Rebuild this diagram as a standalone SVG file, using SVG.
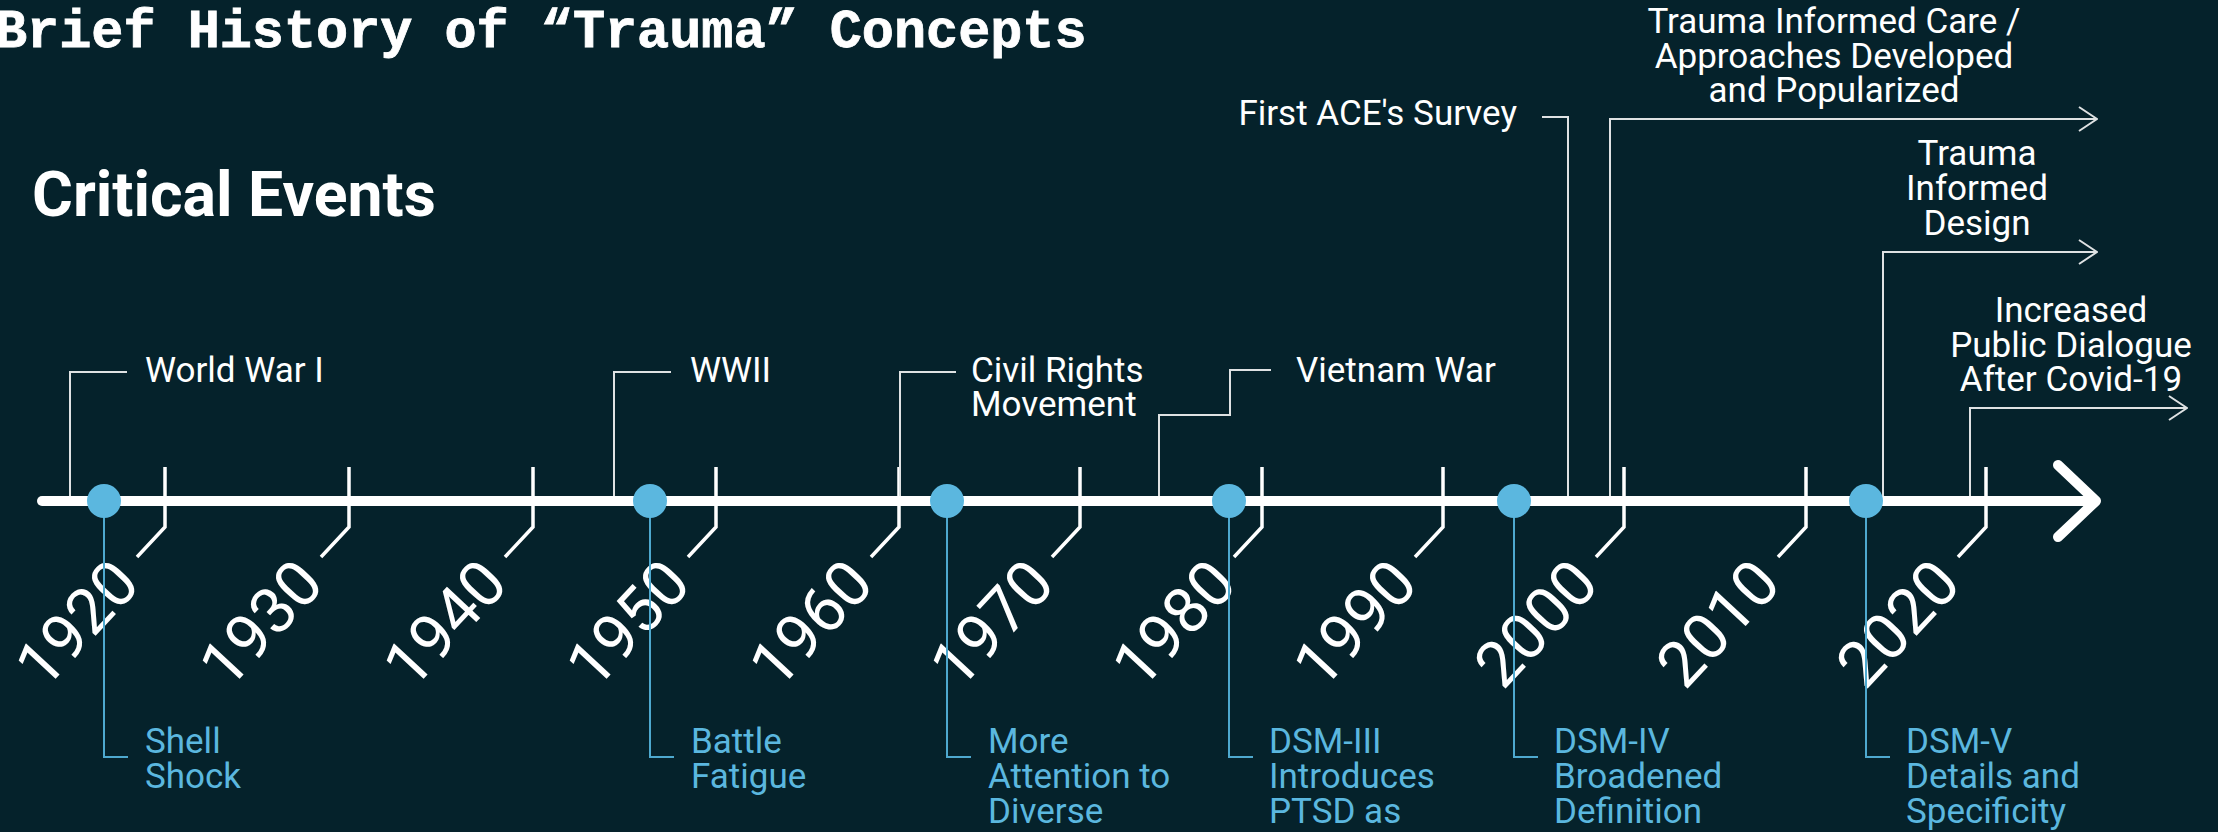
<svg xmlns="http://www.w3.org/2000/svg" width="2218" height="832" viewBox="0 0 2218 832">
<defs>
<style>
.bg{fill:#05222b}
.t{font-family:Roboto,"Liberation Sans",sans-serif;fill:#ffffff;font-size:35px}
.b{font-family:Roboto,"Liberation Sans",sans-serif;fill:#5bb7df;font-size:35px}
.yr{font-family:Roboto,"Liberation Sans",sans-serif;fill:#ffffff;font-size:64px;text-anchor:end}
.mid{text-anchor:middle}
.end{text-anchor:end}
.br{fill:none;stroke:#dfe2e3;stroke-width:2}
.bl{fill:none;stroke:#4ea9cf;stroke-width:2}
.tick{fill:none;stroke:#ffffff;stroke-width:3.5}
.dot{fill:#5bb7df}
</style>
<marker id="ah" viewBox="0 0 20 26" refX="19" refY="13" markerWidth="20" markerHeight="26" markerUnits="userSpaceOnUse" orient="auto">
<path d="M1,1 L19,13 L1,25" fill="none" stroke="#dfe2e3" stroke-width="2"/>
</marker>
</defs>
<rect class="bg" x="0" y="0" width="2218" height="832"/>
<text x="-5" y="47" font-family="'Liberation Mono',monospace" font-weight="bold" font-size="53.5" fill="#ffffff" stroke="#ffffff" stroke-width="0.8">Brief History of “Trauma” Concepts</text>
<text x="32" y="216" font-family="Roboto,'Liberation Sans',sans-serif" font-weight="bold" font-size="62.5" fill="#ffffff">Critical Events</text>

<g id="axis">
<line x1="42" y1="501" x2="2094" y2="501" stroke="#ffffff" stroke-width="10" stroke-linecap="round"/>
<path d="M2058,465 L2096,501 L2058,537" fill="none" stroke="#ffffff" stroke-width="10" stroke-linecap="round" stroke-linejoin="round"/>
</g>

<g id="ticks">
<path class="tick" d="M165,467 V527 L137,557"/>
<path class="tick" d="M349,467 V527 L321,557"/>
<path class="tick" d="M533,467 V527 L505,557"/>
<path class="tick" d="M716,467 V527 L688,557"/>
<path class="tick" d="M899,467 V527 L871,557"/>
<path class="tick" d="M1080,467 V527 L1052,557"/>
<path class="tick" d="M1262,467 V527 L1234,557"/>
<path class="tick" d="M1443,467 V527 L1415,557"/>
<path class="tick" d="M1624,467 V527 L1596,557"/>
<path class="tick" d="M1806,467 V527 L1778,557"/>
<path class="tick" d="M1986,467 V527 L1958,557"/>
</g>

<g id="years">
<text class="yr" transform="translate(142,586) rotate(-47)">1920</text>
<text class="yr" transform="translate(326,586) rotate(-47)">1930</text>
<text class="yr" transform="translate(510,586) rotate(-47)">1940</text>
<text class="yr" transform="translate(693,586) rotate(-47)">1950</text>
<text class="yr" transform="translate(876,586) rotate(-47)">1960</text>
<text class="yr" transform="translate(1057,586) rotate(-47)">1970</text>
<text class="yr" transform="translate(1239,586) rotate(-47)">1980</text>
<text class="yr" transform="translate(1420,586) rotate(-47)">1990</text>
<text class="yr" transform="translate(1601,586) rotate(-47)">2000</text>
<text class="yr" transform="translate(1783,586) rotate(-47)">2010</text>
<text class="yr" transform="translate(1963,586) rotate(-47)">2020</text>
</g>

<g id="connectors">
<path class="br" d="M70,496 V372 H127"/>
<path class="br" d="M614,496 V372 H671"/>
<path class="br" d="M900,496 V372 H956"/>
<path class="br" d="M1159,496 V415 H1230 V370 H1271"/>
<path class="br" d="M1542,117 H1568 V496"/>
<path class="br" d="M1610,496 V119 H2097" marker-end="url(#ah)"/>
<path class="br" d="M1883,496 V252 H2097" marker-end="url(#ah)"/>
<path class="br" d="M1970,496 V408 H2187" marker-end="url(#ah)"/>
<path class="bl" d="M104,501 V757 H128"/>
<path class="bl" d="M650,501 V757 H674"/>
<path class="bl" d="M947,501 V757 H971"/>
<path class="bl" d="M1229,501 V757 H1253"/>
<path class="bl" d="M1514,501 V757 H1538"/>
<path class="bl" d="M1866,501 V757 H1890"/>
</g>

<g id="dot-1920"><circle class="dot" cx="104" cy="501" r="17"/></g>
<g id="dot-1950"><circle class="dot" cx="650" cy="501" r="17"/></g>
<g id="dot-1970"><circle class="dot" cx="947" cy="501" r="17"/></g>
<g id="dot-1980"><circle class="dot" cx="1229" cy="501" r="17"/></g>
<g id="dot-2000"><circle class="dot" cx="1514" cy="501" r="17"/></g>
<g id="dot-2020"><circle class="dot" cx="1866" cy="501" r="17"/></g>

<g id="ev-ww1"><text class="t" x="145" y="382">World War I</text></g>
<g id="ev-ww2"><text class="t" x="690" y="382">WWII</text></g>
<g id="ev-civil"><text class="t" x="971" y="382">Civil Rights<tspan x="971" y="416">Movement</tspan></text></g>
<g id="ev-vietnam"><text class="t" x="1296" y="382">Vietnam War</text></g>
<g id="ev-ace"><text class="t end" x="1517" y="125">First ACE's Survey</text></g>
<g id="ev-tic"><text class="t mid" x="1834" y="33">Trauma Informed Care /<tspan x="1834" y="68">Approaches Developed</tspan><tspan x="1834" y="102">and Popularized</tspan></text></g>
<g id="ev-tid"><text class="t mid" x="1977" y="165">Trauma<tspan x="1977" y="200">Informed</tspan><tspan x="1977" y="235">Design</tspan></text></g>
<g id="ev-covid"><text class="t mid" x="2071" y="322">Increased<tspan x="2071" y="357">Public Dialogue</tspan><tspan x="2071" y="391">After Covid-19</tspan></text></g>

<g id="c-shell"><text class="b" x="145" y="753">Shell<tspan x="145" y="788">Shock</tspan></text></g>
<g id="c-battle"><text class="b" x="691" y="753">Battle<tspan x="691" y="788">Fatigue</tspan></text></g>
<g id="c-more"><text class="b" x="988" y="753">More<tspan x="988" y="788">Attention to</tspan><tspan x="988" y="823">Diverse</tspan></text></g>
<g id="c-dsm3"><text class="b" x="1269" y="753">DSM-III<tspan x="1269" y="788">Introduces</tspan><tspan x="1269" y="823">PTSD as</tspan></text></g>
<g id="c-dsm4"><text class="b" x="1554" y="753">DSM-IV<tspan x="1554" y="788">Broadened</tspan><tspan x="1554" y="823">Definition</tspan></text></g>
<g id="c-dsm5"><text class="b" x="1906" y="753">DSM-V<tspan x="1906" y="788">Details and</tspan><tspan x="1906" y="823">Specificity</tspan></text></g>
</svg>
